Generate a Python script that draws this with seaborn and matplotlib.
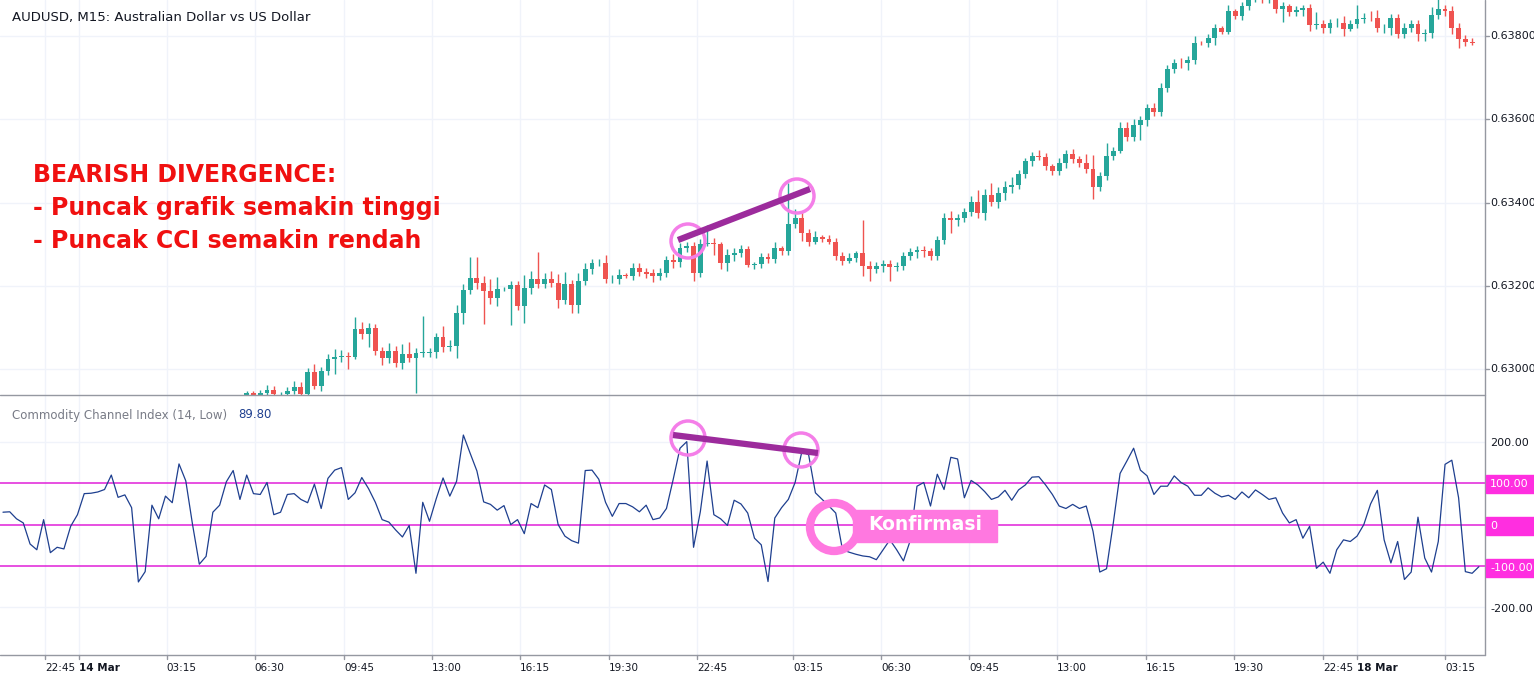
import numpy as np
import pandas as pd
import seaborn as sns
import matplotlib
matplotlib.use("Agg")
import matplotlib.pyplot as plt
from matplotlib.patches import Circle, Rectangle
from matplotlib.lines import Line2D
from matplotlib.transforms import IdentityTransform

# ---------------- data ----------------
FIRST_INDEX = 36
FIRST_OPEN = 0.62938
closes = [
 .62943,.62938,.62943,.62950,.62940,.62940,.62948,.62958,.62940,.62994,
 .62960,.62996,.63024,.63030,.63032,.63030,.63096,.63084,.63100,.63044,
 .63026,.63044,.63016,.63036,.63028,.63040,.63040,.63041,.63078,.63054,
 .63056,.63134,.63190,.63220,.63208,.63188,.63172,.63192,.63192,.63202,
 .63152,.63196,.63216,.63204,.63216,.63208,.63166,.63204,.63154,.63212,
 .63240,.63254,.63254,.63216,.63216,.63226,.63224,.63244,.63234,.63230,
 .63224,.63232,.63262,.63257,.63292,.63296,.63232,.63300,.63302,.63300,
 .63256,.63274,.63280,.63288,.63251,.63252,.63270,.63264,.63290,.63284,
 .63348,.63364,.63328,.63306,.63318,.63313,.63306,.63272,.63260,.63268,
 .63279,.63249,.63241,.63248,.63252,.63246,.63248,.63272,.63281,.63286,
 .63284,.63272,.63310,.63364,.63358,.63363,.63377,.63401,.63374,.63418,
 .63402,.63422,.63438,.63442,.63468,.63499,.63512,.63510,.63488,.63476,
 .63496,.63516,.63504,.63496,.63480,.63438,.63464,.63512,.63524,.63578,
 .63558,.63586,.63598,.63628,.63618,.63676,.63720,.63736,.63734,.63742,
 .63784,.63783,.63794,.63818,.63810,.63860,.63848,.63872,.63886,.63891,
 .63888,.63896,.63864,.63872,.63858,.63862,.63867,.63826,.63828,.63818,
 .63830,.63832,.63816,.63828,.63840,.63844,.63842,.63818,.63818,.63842,
 .63804,.63820,.63828,.63804,.63806,.63850,.63864,.63861,.63820,.63792,
 .63786,.63783]
# wick lengths in points (0.00001)
upper_wick = [5,5,8,12,10,5,10,15,12,10, 18,10,12,18,15,10,30,18,10,8,
 10,20,12,25,30,12,87,10,10,25, 15,20,15,50,50,15,30,30,5,10,
 10,30,20,65,15,20,20,30,10,20, 15,10,10,20,10,15,5,12,12,8,
 10,10,10,15,12,10,10,12,44,12, 5,15,10,10,8,5,10,10,15,5,
 100,20,15,10,15,5,10,10,10,10, 5,80,10,10,10,10,10,10,10,10,
 10,8,10,10,15,10,10,15,30,15, 30,15,15,20,10,8,10,15,10,5,
 10,10,12,8,20,35,10,30,10,15, 15,15,10,10,12,10,10,8,10,10,
 15,5,10,10,5,15,5,10,10,10, 15,10,5,10,5,10,8,10,30,10,
 10,10,15,10,35,10,15,20,10,10, 10,10,10,10,10,20,30,10,10,10, 10,8]
lower_wick = [5,5,6,8,6,5,6,8,10,10, 8,12,10,35,12,30,6,12,30,10,
 15,12,10,15,10,85,10,10,15,12, 10,30,25,10,15,80,15,20,5,85,
 10,40,15,10,10,10,20,10,20,20, 10,10,5,10,10,12,5,10,10,10,
 15,10,10,15,12,10,20,10,5,25, 15,20,15,10,5,10,10,10,10,10,
 10,10,20,10,5,8,5,10,10,5, 10,25,30,10,15,35,10,10,10,15,
 15,10,10,10,30,15,10,10,10,15, 10,15,15,15,10,10,10,8,10,10,
 10,12,10,10,10,30,10,10,10,5, 10,10,35,15,10,10,10,10,10,15,
 10,5,10,15,5,5,8,10,10,5, 10,10,10,30,10,10,15,15,10,12,
 10,8,15,5,10,10,5,8,10,15, 10,10,10,15,15,10,10,12,15,20, 10,5]

cci = [30,31,14,4,-47,-61,12,-68,-55,-59,-4,24,75,76,79,85,120,66,72,41,
 -139,-114,47,14,69,53,147,106,0,-96,-77,30,47,104,131,61,120,75,73,102,
 24,30,73,75,61,53,98,39,112,132,138,61,77,114,87,54,12,6,-13,-30,
 -2,-118,54,8,63,113,69,105,217,173,130,55,49,35,46,0,12,-22,51,41,
 96,85,0,-28,-39,-45,131,132,110,54,20,51,51,43,31,47,12,16,39,110,
 185,201,-55,31,154,24,14,-2,59,
 50,28,-33,-49,-138,16,41,61,102,177,169,77,61,45,28,-61,-67,-72,-76,-78,
 -85,-61,-37,-61,-88,-39,93,102,45,122,85,163,159,65,107,96,80,61,67,83,
 59,84,96,115,116,96,73,45,39,49,39,45,-16,-115,-107,4,124,154,185,132,
 118,73,93,93,118,102,93,71,71,89,76,67,71,61,79,65,84,73,61,65,
 28,4,12,-33,-4,-106,-91,-118,-61,-37,-41,-28,0,50,83,-37,-93,-41,-133,-115,
 18,-81,-115,-41,146,156,65,-114,-118,-102]

tick_pos = [6.2,11.2,24.2,37.2,50.4,63.4,76.4,89.5,102.5,116.7,129.7,142.7,155.7,168.8,181.8,195.0,200.0,213.0]
tick_labels = ["22:45","14 Mar","03:15","06:30","09:45","13:00","16:15","19:30","22:45",
               "03:15","06:30","09:45","13:00","16:15","19:30","22:45","18 Mar","03:15"]
price_ticks = [0.630, 0.632, 0.634, 0.636, 0.638]
cci_levels = [100, 0, -100]

# ---------------- figure ----------------
sns.set_theme(style="white")
plt.rcParams["font.family"] = "DejaVu Sans"
W, H = 1534, 680
fig = plt.figure(figsize=(W/100, H/100), dpi=100)
fig.patch.set_facecolor("white")
plot_w = 1485 / W
ax1 = fig.add_axes([0, (H-395)/H, plot_w, 395/H])
ax2 = fig.add_axes([0, (H-655)/H, plot_w, 260/H])

GREEN, RED = "#26a69a", "#ef5350"
GRID = "#f0f3fa"
XMIN, XMAX = -0.44, 218.9

n = len(closes)
idx = np.arange(FIRST_INDEX, FIRST_INDEX + n)
opens = [FIRST_OPEN] + closes[:-1]
df = pd.DataFrame({"i": idx, "open": opens, "close": closes})
df["high"] = df[["open", "close"]].max(axis=1) + np.array(upper_wick) * 1e-5
df["low"] = df[["open", "close"]].min(axis=1) - np.array(lower_wick) * 1e-5
df["up"] = df["close"] >= df["open"]

for ax in (ax1, ax2):
    ax.set_xlim(XMIN, XMAX)
    for t in tick_pos:
        ax.axvline(t, color=GRID, lw=1, zorder=0)
    for s in ax.spines.values():
        s.set_visible(False)
    ax.set_xticks([]); ax.set_yticks([])

ax1.set_ylim(0.629384, 0.638864)
for p in price_ticks:
    ax1.axhline(p, color=GRID, lw=1, zorder=0)
cols = np.where(df["up"], GREEN, RED)
ax1.vlines(df["i"], df["low"], df["high"], colors=cols, lw=1, zorder=2)
bottoms = df[["open", "close"]].min(axis=1)
heights = (df["close"] - df["open"]).abs().clip(lower=0.000012)
ax1.bar(df["i"], heights, bottom=bottoms, width=0.72, color=cols, zorder=3, linewidth=0)

ax2.set_ylim(-316, 314)
for v in [200, -200]:
    ax2.axhline(v, color=GRID, lw=1, zorder=0)
for v in cci_levels:
    ax2.axhline(v, color="#e020d8", lw=1.1, zorder=1)
cdf = pd.DataFrame({"k": np.arange(len(cci)), "cci": cci})
sns.lineplot(data=cdf, x="k", y="cci", ax=ax2, color="#1e3f8f", lw=0.9, zorder=3)
ax2.set_xlabel(""); ax2.set_ylabel("")
ax2.set_xticks([]); ax2.set_yticks([])

# frame lines (pixel coords)
T = IdentityTransform()
def pline(x0, y0, x1, y1, **kw):
    fig.add_artist(Line2D([x0, x1], [H-y0, H-y1], transform=T, **kw))
pline(0, 395, 1485, 395, color="#9598a1", lw=1)
pline(1485, 0, 1485, 655, color="#9598a1", lw=1)
pline(0, 655, 1485, 655, color="#9598a1", lw=1)

# x tick labels (left edge at the tick)
for pos, lab in zip(tick_pos, tick_labels):
    xf = (pos - XMIN) / (XMAX - XMIN) * plot_w
    bold = "Mar" in lab
    fig.text(xf, (H-668)/H, lab, ha="left", va="center", fontsize=7.5,
             color="#131722", fontweight="bold" if bold else "normal")
    fig.add_artist(Line2D([xf*W, xf*W], [H-655, H-659], transform=T, color="#9598a1", lw=1))

# price labels
for p in price_ticks:
    y = 36 + (0.638 - p) / 0.000024
    fig.text(1490/W, (H-y)/H, f"{p:.5f}", ha="left", va="center", fontsize=8, color="#131722")
    pline(1485, y, 1489, y, color="#9598a1", lw=1)

# CCI labels
def cci_y(v):
    return 526 - v * 0.4175
for v, lab in [(200, "200.00"), (-200, "-200.00")]:
    fig.text(1490/W, (H-cci_y(v))/H, lab, ha="left", va="center", fontsize=8, color="#131722")
for v, lab in [(100, "100.00"), (0, "0"), (-100, "-100.00")]:
    y = cci_y(v)
    fig.add_artist(Rectangle((1486, H-y-9), 48, 18, transform=T, color="#ff2ee0", zorder=5))
    fig.text(1490/W, (H-y)/H, lab, ha="left", va="center", fontsize=8, color="white", zorder=6)

# titles
fig.text(12/W, (H-17)/H, "AUDUSD, M15: Australian Dollar vs US Dollar", fontsize=9.5,
         color="#131722", va="center")
fig.text(12/W, (H-415)/H, "Commodity Channel Index (14, Low)", fontsize=8.5,
         color="#787b86", va="center")
fig.text(238/W, (H-415)/H, "89.80", fontsize=8.5, color="#1e3f8f", va="center")

# annotation text
for k, line in enumerate(["BEARISH DIVERGENCE:", "- Puncak grafik semakin tinggi",
                          "- Puncak CCI semakin rendah"]):
    fig.text(33/W, (H-(175 + 33*k))/H, line, fontsize=17, fontweight="bold",
             color="#f01010", va="center")

PINK = "#f47ee8"
PURPLE = "#9c2b9c"
pline(678, 240, 810, 189, color=PURPLE, lw=4.5, solid_capstyle="butt")
pline(673, 435, 818, 453, color=PURPLE, lw=4.5, solid_capstyle="butt")
for (cx, cy) in [(688, 241), (797, 196), (688, 438), (801, 450)]:
    fig.add_artist(Circle((cx, H-cy), 17, transform=T, fill=False, ec=PINK, lw=2.5))
fig.add_artist(Rectangle((853, H-542), 144, 32, transform=T, color="#ff78e0"))
fig.add_artist(Circle((834, H-527), 24, transform=T, fill=False, ec="#ff78e0", lw=6))
fig.text(925/W, (H-525)/H, "Konfirmasi", ha="center", va="center", fontsize=13.5,
         fontweight="bold", color="white")

fig.savefig("out.png", dpi=100)
